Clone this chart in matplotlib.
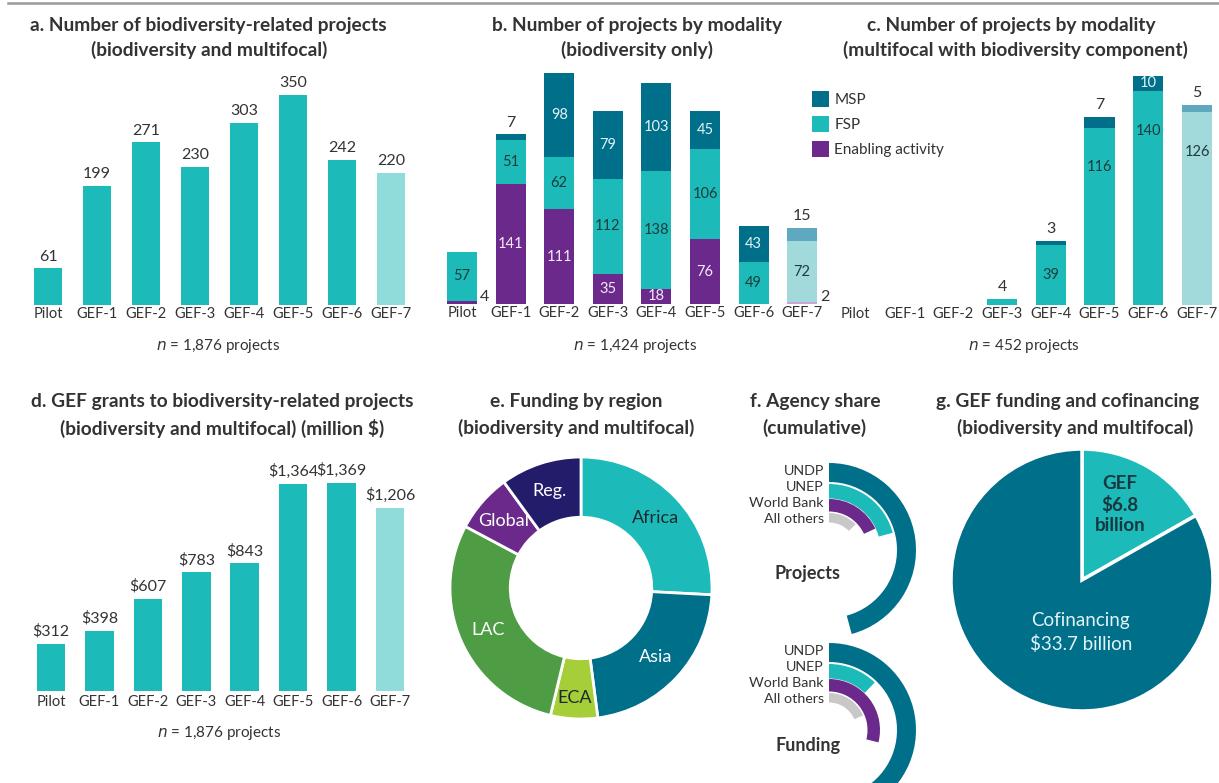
import matplotlib
matplotlib.use('Agg')
import matplotlib.pyplot as plt
from matplotlib.patches import Wedge
from matplotlib.lines import Line2D
import math

plt.rcParams['font.family'] = ['Lato', 'DejaVu Sans']

# ---------------- data ----------------
periods = ['Pilot', 'GEF-1', 'GEF-2', 'GEF-3', 'GEF-4', 'GEF-5', 'GEF-6', 'GEF-7']
projects_total = [61, 199, 271, 230, 303, 350, 242, 220]
bio_ea = [4, 141, 111, 35, 18, 76, 0, 2]
bio_fsp = [57, 51, 62, 112, 138, 106, 49, 72]
bio_msp = [0, 7, 98, 79, 103, 45, 43, 15]
multi_fsp = [0, 0, 0, 4, 39, 116, 140, 126]
multi_msp = [0, 0, 0, 0, 3, 7, 10, 5]
grants = [312, 398, 607, 783, 843, 1364, 1369, 1206]
regions = ['Africa', 'Asia', 'ECA', 'LAC', 'Global', 'Reg.']
region_share = [25.8, 22.1, 5.8, 29.0, 7.2, 10.0]
agencies = ['UNDP', 'UNEP', 'World Bank', 'All others']
agency_projects_pct = [45.8, 20.8, 18.1, 12.8]
agency_funding_pct = [41.7, 12.2, 28.9, 18.6]
cofin_labels = ['GEF\n$6.8\nbillion', 'Cofinancing\n$33.7 billion']
cofin_values = [6.8, 33.7]

# ---------------- style ----------------
TEAL = '#1cbbb9'
TEAL_L = '#8fdcdb'
DARK = '#006f8a'
DARK_L = '#5ea9c0'
PURP = '#6b2a8b'
PURP_L = '#c9a6d6'
FSP_L = '#a2dadb'
GRAY = '#c8c8c8'
TXT = '#333333'

W, H = 1219, 783
fig = plt.figure(figsize=(W / 100, H / 100), dpi=100)


def axes_px(x0, y0, x1, y1):
    a = fig.add_axes([x0 / W, 1 - y1 / H, (x1 - x0) / W, (y1 - y0) / H])
    a.set_facecolor('none')
    return a


def ftext(x, y, s, **kw):
    kw.setdefault('color', TXT)
    kw.setdefault('ha', 'center')
    kw.setdefault('va', 'center')
    fig.text(x / W, 1 - y / H, s, **kw)


def clean(ax, pad=1.5):
    for sp in ax.spines.values():
        sp.set_visible(False)
    ax.set_yticks([])
    ax.tick_params(axis='x', length=0, pad=pad, labelsize=10.5, labelcolor=TXT)


fig.add_artist(Line2D([8 / W, 1], [1 - 2.5 / H, 1 - 2.5 / H], color='#999999', lw=1.8))

TFS = 13.8
# titles
ftext(208, 25, 'a. Number of biodiversity-related projects', fontsize=TFS, fontweight='bold')
ftext(209, 50, '(biodiversity and multifocal)', fontsize=TFS, fontweight='bold')
ftext(637, 25, 'b. Number of projects by modality', fontsize=TFS, fontweight='bold')
ftext(637, 50, '(biodiversity only)', fontsize=TFS, fontweight='bold')
ftext(1011, 25, 'c. Number of projects by modality', fontsize=TFS, fontweight='bold')
ftext(1015, 50, '(multifocal with biodiversity component)', fontsize=TFS, fontweight='bold')
ftext(222, 402, 'd. GEF grants to biodiversity-related projects', fontsize=TFS, fontweight='bold')
ftext(222, 428, '(biodiversity and multifocal) (million $)', fontsize=TFS, fontweight='bold')
ftext(576, 402, 'e. Funding by region', fontsize=TFS, fontweight='bold')
ftext(576, 428, '(biodiversity and multifocal)', fontsize=TFS, fontweight='bold')
ftext(815, 402, 'f. Agency share', fontsize=TFS, fontweight='bold')
ftext(814, 428, '(cumulative)', fontsize=TFS, fontweight='bold')
ftext(1068, 402, 'g. GEF funding and cofinancing', fontsize=TFS, fontweight='bold')
ftext(1075, 428, '(biodiversity and multifocal)', fontsize=TFS, fontweight='bold')

# n labels
for (x, y, n) in [(218, 346, '1,876'), (635, 346, '1,424'), (1024, 346, '452'), (219, 733, '1,876')]:
    ftext(x, y, r'$\it{n}$' + ' = ' + n + ' projects', fontsize=11)

xs = list(range(len(periods)))
bar_cols = [TEAL] * 7 + [TEAL_L]

# ---------------- panel a ----------------
axa = axes_px(23.5, 65, 415.5, 305)
ca = axa.bar(xs, projects_total, width=0.59, color=bar_cols)
axa.bar_label(ca, padding=3.5, fontsize=11.5, color=TXT)
axa.set_xlim(-0.5, 7.5)
axa.set_ylim(0, 400)
axa.set_xticks(xs, periods)
clean(axa)

# ---------------- panel b ----------------
axb = axes_px(437.7, 60, 826.5, 304)
ea_cols = [PURP] * 7 + [PURP_L]
fsp_cols = [TEAL] * 7 + [FSP_L]
msp_cols = [DARK] * 7 + [DARK_L]
bw = 0.62
b_ea = axb.bar(xs, bio_ea, width=bw, color=ea_cols)
b_fsp = axb.bar(xs, bio_fsp, width=bw, bottom=bio_ea, color=fsp_cols)
bot2 = [e + f for e, f in zip(bio_ea, bio_fsp)]
b_msp = axb.bar(xs, bio_msp, width=bw, bottom=bot2, color=msp_cols)
axb.set_xlim(-0.5, 7.5)
axb.set_ylim(0, 286.4)
axb.set_xticks(xs, periods)
clean(axb)

IFS = 10.5
axb.bar_label(b_ea, labels=[str(v) if v >= 15 else '' for v in bio_ea],
              label_type='center', fontsize=IFS, color='#f3eaf7')
axb.bar_label(b_fsp, labels=[str(v) for v in bio_fsp],
              label_type='center', fontsize=IFS, color='#1d3c3c')
axb.bar_label(b_msp, labels=[str(v) if v >= 40 else '' for v in bio_msp],
              label_type='center', fontsize=IFS, color='#e3f3f6')
for i, v in enumerate(bio_msp):
    if 0 < v < 40:
        axb.annotate(str(v), (i, bot2[i] + v), xytext=(0, 3.5), textcoords='offset points',
                     ha='center', va='bottom', fontsize=11.5, color=TXT)
for i, v in enumerate(bio_ea):
    if 0 < v < 15:
        axb.annotate(str(v), (i + bw / 2, 0), xytext=(2, 0), textcoords='offset points',
                     ha='left', va='bottom', fontsize=11.5, color=TXT, annotation_clip=False)

# ---------------- panel c ----------------
axc = axes_px(831.4, 65, 1221.4, 305)
c_fsp = axc.bar(xs, multi_fsp, width=bw, color=fsp_cols)
c_msp = axc.bar(xs, multi_msp, width=bw, bottom=multi_fsp, color=msp_cols)
axc.set_xlim(-0.5, 7.5)
axc.set_ylim(0, 240 / 1.53)
axc.set_xticks(xs, periods)
clean(axc)
for i, (f, m) in enumerate(zip(multi_fsp, multi_msp)):
    if f >= 20:
        yy = max(f / 2, f - 26)
        axc.text(i, yy, str(f), ha='center', va='center', fontsize=IFS, color='#1d3c3c')
    elif f > 0 and m == 0:
        axc.annotate(str(f), (i, f), xytext=(0, 3.5), textcoords='offset points',
                     ha='center', va='bottom', fontsize=11.5, color=TXT)
    if m >= 10:
        axc.text(i, f + m / 2, str(m), ha='center', va='center', fontsize=IFS, color='#e3f3f6')
    elif m > 0:
        axc.annotate(str(m), (i, f + m), xytext=(0, 3.5), textcoords='offset points',
                     ha='center', va='bottom', fontsize=11.5, color=TXT)

fig.legend(handles=[b_msp, b_fsp, b_ea], labels=['MSP', 'FSP', 'Enabling activity'],
           loc='upper left', bbox_to_anchor=(812 / W, 1 - 91 / H), frameon=False,
           fontsize=11, handlelength=1.1, handleheight=1.2, handletextpad=0.35,
           labelspacing=0.6, borderpad=0, borderaxespad=0, labelcolor=TXT)

# ---------------- panel d ----------------
axd = axes_px(26.8, 460, 414.2, 691)
cd = axd.bar(xs, grants, width=0.59, color=bar_cols)
axd.bar_label(cd, labels=['${:,}'.format(v) for v in grants], padding=3.5, fontsize=11.5, color=TXT)
axd.set_xlim(-0.5, 7.5)
axd.set_ylim(0, 1520)
axd.set_xticks(xs, periods)
clean(axd, pad=3)

# ---------------- panel e ----------------
axe = axes_px(450, 457, 712, 719)
reg_cols = [TEAL, DARK, '#a6ce39', '#4e9d45', PURP, '#231c6b']
reg_txt = ['#1b2b2b', 'white', '#1b2b2b', 'white', 'white', 'white']
wedges, _ = axe.pie(region_share, startangle=90, counterclock=False, colors=reg_cols,
                    wedgeprops=dict(width=0.46, edgecolor='white', linewidth=2))
axe.set_xlim(-1, 1)
axe.set_ylim(-1, 1)
for w, lab, tc in zip(wedges, regions, reg_txt):
    ang = math.radians((w.theta1 + w.theta2) / 2)
    r = 0.78 if lab != 'ECA' else 0.84
    axe.text(r * math.cos(ang), r * math.sin(ang), lab, ha='center', va='center',
             fontsize=13, color=tc)

# ---------------- panel f ----------------
axf = axes_px(735, 455, 935, 783)
axf.set_xlim(735, 935)
axf.set_ylim(H - 783, H - 455)
axf.axis('off')
ag_cols = [DARK, TEAL, PURP, GRAY]
radii = [87, 66, 51, 37]
widths = [19, 14.5, 12.5, 9.5]
label_y = [0, 16, 32, 48]
for cy, pcts, title, tx_y in [(H - 550, agency_projects_pct, 'Projects', H - 573),
                              (H - 730, agency_funding_pct, 'Funding', H - 745)]:
    for pct, r, wd, col in zip(pcts, radii, widths, ag_cols):
        ext = pct * 3.6
        axf.add_patch(Wedge((829, cy), r, 90 - ext, 90, width=wd, facecolor=col,
                            edgecolor='none'))
    top = cy + 87
    for name, dy in zip(agencies, label_y):
        axf.text(824, top - 8 - dy, name, ha='right', va='center', fontsize=10.3, color=TXT)
    axf.text(808, tx_y, title, ha='center', va='center', fontsize=13, fontweight='bold', color=TXT)

# ---------------- panel g ----------------
axg = axes_px(951, 449, 1213, 711)
gw, _ = axg.pie(cofin_values, startangle=90, counterclock=False, colors=[TEAL, DARK],
                wedgeprops=dict(edgecolor='white', linewidth=2.5))
axg.set_xlim(-1, 1)
axg.set_ylim(-1, 1)
axg.text(0.29, 0.575, cofin_labels[0], ha='center', va='center', fontsize=13.5,
         fontweight='bold', color='#17383f', linespacing=1.25)
axg.text(-0.01, -0.40, cofin_labels[1], ha='center', va='center', fontsize=13.5,
         color='#e2f4f6', linespacing=1.35)

fig.savefig('out.png', dpi=100)
